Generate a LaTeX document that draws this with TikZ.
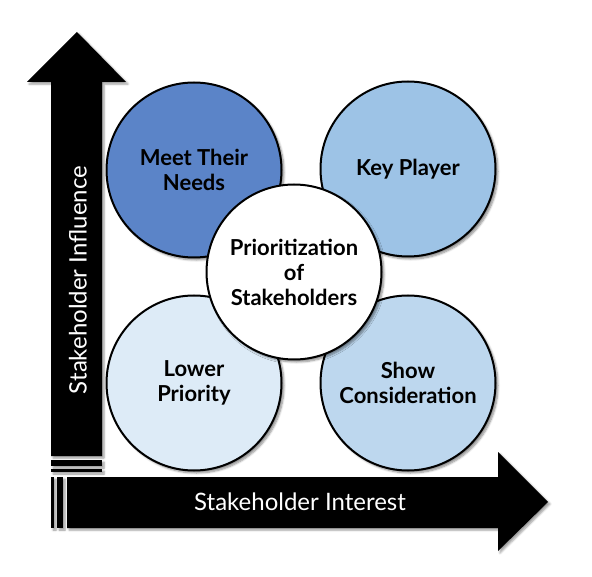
\documentclass[tikz,border=0pt]{standalone}
\usepackage{fontspec}
\setmainfont{Lato}
\usetikzlibrary{shadows.blur}
\definecolor{cMeet}{HTML}{5B84C8}
\definecolor{cKey}{HTML}{9DC3E6}
\definecolor{cLow}{HTML}{DDEBF7}
\definecolor{cShow}{HTML}{BDD7EE}
\tikzset{
  quad/.style={circle, draw=black, line width=2pt, minimum size=175pt, inner sep=0pt,
    align=center, font=\bfseries\fontsize{22}{25}\selectfont,
    blur shadow={shadow xshift=2.5pt, shadow yshift=-2.5pt, shadow blur steps=6, shadow opacity=45}},
  axisarrow/.style={fill=black,
    blur shadow={shadow xshift=2pt, shadow yshift=-2pt, shadow blur steps=5, shadow opacity=40}},
  axislabel/.style={text=white, font=\fontsize{24}{26}\selectfont},
}
\begin{document}
\begin{tikzpicture}[x=1pt,y=-1pt]
\useasboundingbox (0,0) rectangle (592,577);
% vertical arrow
\fill[axisarrow] (77,32) -- (126,82) -- (102,82) -- (102,456) -- (51,456) -- (51,82) -- (27,82) -- cycle;
\fill[axisarrow] (51,460) rectangle (102,466);
\fill[axisarrow] (51,469) rectangle (102,472);
% horizontal arrow
\fill[axisarrow] (67,477) -- (498,477) -- (498,452) -- (548,502) -- (498,551) -- (498,528) -- (67,528) -- cycle;
\fill[axisarrow] (51,477) rectangle (54,528);
\fill[axisarrow] (57,477) rectangle (63,528);
\node[axislabel, rotate=90] (yl) at (78,280) {Stakeholder Influence};
\node[axislabel] (xl) at (300,502) {Stakeholder Interest};
% circles
\node[quad, fill=cMeet] (meet) at (194,170) {Meet Their\\Needs};
\node[quad, fill=cKey] (key) at (408,169) {Key Player};
\node[quad, fill=cLow] (low) at (194,383) {Lower\\Priority};
\node[quad, fill=cShow] (show) at (408,383) {Show\\Consideration};
\node[quad, fill=white] (prio) at (294,272) {Prioritization\\of\\Stakeholders};
\end{tikzpicture}
\end{document}
